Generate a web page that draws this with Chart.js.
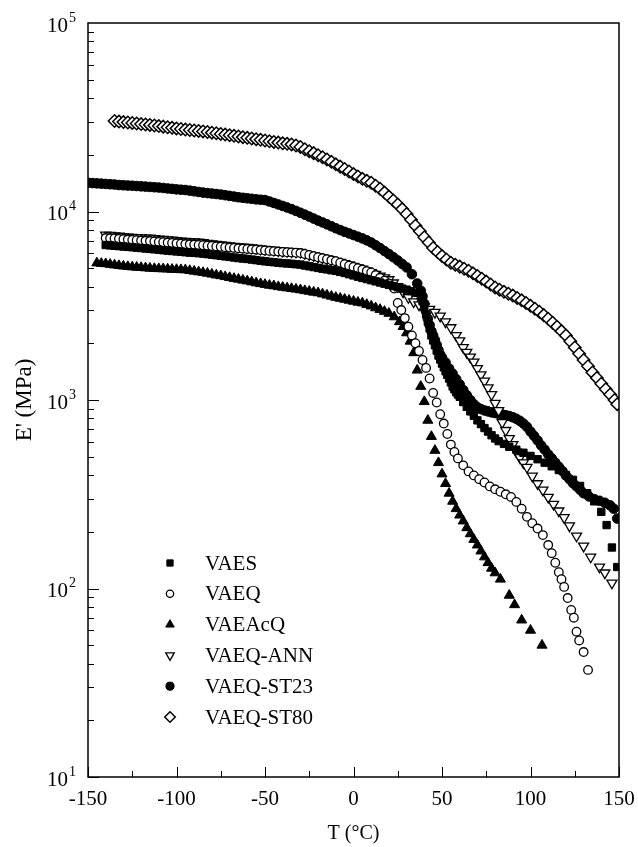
<!DOCTYPE html>
<html>
<head>
<meta charset="utf-8">
<script src="https://cdn.jsdelivr.net/npm/chart.js@4.4.1/dist/chart.umd.min.js"></script>
<style>
    html, body { margin: 0; padding: 0; background: #fff; }
    #wrap { width: 638px; height: 847px; }
</style>
</head>
<body>
<div id="wrap"><canvas id="modulusChart" width="638" height="847"></canvas></div>
<script>
// --- DATOS ---
const seriesNames = ['VAES', 'VAEQ', 'VAEAcQ', 'VAEQ-ANN', 'VAEQ-ST23', 'VAEQ-ST80'];

const vaesT = [-140,-137.5,-135,-132.5,-130,-127.5,-125,-122.5,-120,-117.5,
    -115,-112.5,-110,-107.5,-105,-102.5,-100,-97.5,-95,-92.5,
    -90,-87.5,-85,-82.5,-80,-77.5,-75,-72.5,-70,-67.5,
    -65,-62.5,-60,-57.5,-55,-52.5,-50,-47.5,-45,-42.5,
    -40,-37.5,-35,-32.5,-30,-27.5,-25,-22.5,-20,-17.5,
    -15,-12.5,-10,-7.5,-5,-2.5,0,2.5,5,7.5,
    10,12.5,15,17.5,20,22.5,25,27.5,30,32.5,
    35,
    38,39,40,41,42,43,44,45,46,47,48,49,50,51,52,53,54,55,56,57,58,59,60,
    62,64,66,68,70,72,74,76,78,80,82,
    85,88,92,96,100,104,108,112,116,120,124,128,132,136,140,
    143,146,149];
const vaesE = [6640,6610,6580,6550,6520,6490,6460,6430,6400,6360,
    6330,6300,6270,6230,6200,6170,6140,6110,6080,6050,
    6030,6010,5980,5940,5900,5860,5820,5780,5740,5700,
    5660,5630,5600,5560,5520,5480,5440,5410,5380,5350,
    5320,5300,5280,5250,5230,5170,5120,5070,5020,4970,
    4930,4880,4840,4780,4720,4650,4580,4510,4440,4380,
    4320,4260,4200,4140,4080,4020,3960,3900,3850,3780,
    3700,
    3560,3350,3100,2850,2600,2400,2200,2070,1950,1830,1720,1640,1560,1490,1420,1360,1300,1240,1180,1140,1100,1070,1040,
    975,920,870,825,780,745,710,680,650,625,605,
    585,565,545,525,505,485,465,445,425,400,377,350,320,290,255,
    217,165,130];

const vaeqT = [-140,-137.5,-135,-132.5,-130,-127.5,-125,-122.5,-120,-117.5,
    -115,-112.5,-110,-107.5,-105,-102.5,-100,-97.5,-95,-92.5,
    -90,-87.5,-85,-82.5,-80,-77.5,-75,-72.5,-70,-67.5,
    -65,-62.5,-60,-57.5,-55,-52.5,-50,-47.5,-45,-42.5,
    -40,-37.5,-35,-32.5,-30,-27.5,-25,-22.5,-20,-17.5,
    -15,-12.5,-10,-7.5,-5,-2.5,0,2.5,5,7.5,
    10,12.5,15,17.5,20,
    23,25,27,29,31,33,35,37,39,41,43,45,47,49,51,53,55,57,59,
    62,65,68,71,74,77,80,83,86,89,92,95,98,101,104,107,110,
    112,114,116,117.5,119,121,123,124.5,126,127.5,130,132.5];
const vaeqE = [7230,7210,7190,7160,7130,7100,7070,7040,7010,6990,
    6970,6930,6900,6870,6840,6810,6780,6750,6720,6700,
    6680,6650,6620,6590,6560,6530,6500,6470,6440,6410,
    6380,6350,6330,6300,6270,6240,6210,6180,6160,6130,
    6100,6080,6060,6040,6020,5950,5880,5800,5720,5650,
    5580,5510,5450,5350,5250,5160,5080,5000,4920,4830,
    4750,4600,4450,4300,4150,
    3900,3270,3000,2720,2450,2200,2000,1820,1630,1480,1300,1090,970,840,750,660,580,530,490,
    450,418,398,380,365,348,336,326,316,306,288,265,240,222,208,192,170,
    154,137,122,112,102,89,77,70,59,53,46,37];

const vaeacqT = [-145,-142.5,-140,-137.5,-135,-132.5,-130,-127.5,-125,-122.5,
    -120,-117.5,-115,-112.5,-110,-107.5,-105,-102.5,-100,-97.5,
    -95,-92.5,-90,-87.5,-85,-82.5,-80,-77.5,-75,-72.5,
    -70,-67.5,-65,-62.5,-60,-57.5,-55,-52.5,-50,-47.5,
    -45,-42.5,-40,-37.5,-35,-32.5,-30,-27.5,-25,-22.5,
    -20,-17.5,-15,-12.5,-10,-7.5,-5,-2.5,0,2.5,
    5,7.5,10,12.5,15,17.5,20,
    23,26,28,30,32,34,36,38,40,42,44,46,48,50,52,54,56,58,60,62,
    64,66,68,70,72,74,76,78,80,83,88,91,95,100,106.5];
const vaeacqE = [5330,5300,5280,5240,5200,5160,5130,5100,5080,5060,
    5040,5020,5000,4980,4970,4960,4950,4930,4920,4910,
    4900,4860,4820,4780,4740,4700,4650,4600,4560,4510,
    4460,4410,4370,4320,4280,4230,4180,4140,4100,4060,
    4030,3990,3960,3930,3900,3870,3840,3800,3770,3730,
    3700,3650,3600,3550,3500,3460,3420,3380,3340,3300,
    3270,3210,3150,3080,3020,2950,2880,
    2760,2600,2450,2270,2050,1780,1440,1180,980,780,640,540,465,405,360,320,290,265,245,228,
    210,195,182,170,158,147,137,128,121,112,92,82,68,60,50];

const annT = [-140,-137.5,-135,-132.5,-130,-127.5,-125,-122.5,-120,-117.5,
    -115,-112.5,-110,-107.5,-105,-102.5,-100,-97.5,-95,-92.5,
    -90,-87.5,-85,-82.5,-80,-77.5,-75,-72.5,-70,-67.5,
    -65,-62.5,-60,-57.5,-55,-52.5,-50,-47.5,-45,-42.5,
    -40,-37.5,-35,-32.5,-30,-27.5,-25,-22.5,-20,-17.5,
    -15,-12.5,-10,-7.5,-5,-2.5,0,2.5,5,7.5,
    10,12.5,15,17.5,20,22.5,25,
    28,31,34,37,40,43,46,49,52,55,58,
    60,62,64,66,68,70,72,74,76,78,80,82,84,86,88,90,92,94,96,98,
    101,104,107,110,113,116,119,122,
    126,130,134,139,142,146];
const annE = [7500,7470,7440,7400,7370,7330,7300,7280,7260,7240,
    7230,7190,7150,7110,7080,7050,7020,6980,6950,6920,
    6900,6880,6840,6790,6750,6700,6650,6610,6580,6540,
    6500,6480,6450,6420,6380,6340,6300,6270,6230,6200,
    6170,6150,6120,6100,6080,5990,5900,5830,5750,5680,
    5600,5530,5450,5380,5300,5210,5120,5030,4950,4850,
    4750,4650,4550,4450,4350,4180,4000,
    3750,3500,3320,3200,3120,3030,2920,2790,2600,2420,2200,
    2060,1900,1790,1690,1590,1470,1360,1260,1160,1070,960,880,760,690,625,580,530,495,465,440,
    395,360,333,305,280,258,238,215,
    190,168,147,130,121,107];

const st23T = [-150,-147.5,-145,-142.5,-140,-137.5,-135,-132.5,-130,-127.5,
    -125,-122.5,-120,-117.5,-115,-112.5,-110,-107.5,-105,-102.5,
    -100,-97.5,-95,-92.5,-90,-87.5,-85,-82.5,-80,-77.5,
    -75,-72.5,-70,-67.5,-65,-62.5,-60,-57.5,-55,-52.5,
    -50,-47.5,-45,-42.5,-40,-37.5,-35,-32.5,-30,-27.5,
    -25,-22.5,-20,-17.5,-15,-12.5,-10,-7.5,-5,-2.5,
    0,2.5,5,7.5,10,12.5,15,17.5,20,22.5,
    25,27.5,30,
    33,36,38,39,
    40,41,42,43,44,45,46,47,48,49,50,
    52,54,56,58,60,62,64,66,68,70,72,74,76,78,80,82,84,86,88,90,
    92,94,96,98,100,102,104,106,108,110,112,114,116,118,120,122,124,126,128,130,
    133,136,139,142,145,147,149];
const st23E = [14200,14150,14100,14050,14000,13950,13900,13820,13780,13730,
    13700,13650,13600,13550,13500,13450,13400,13330,13250,13180,
    13100,13050,13000,12900,12800,12700,12600,12520,12450,12380,
    12300,12200,12100,12000,11900,11820,11750,11680,11600,11550,
    11500,11300,11100,10900,10700,10500,10300,10070,9850,9620,
    9400,9170,8950,8750,8550,8350,8150,7970,7800,7650,
    7500,7350,7200,7030,6850,6620,6400,6170,5950,5720,
    5500,5270,5050,
    4650,4150,3800,3550,
    3250,2950,2700,2500,2320,2200,2080,1960,1840,1740,1680,
    1580,1470,1380,1290,1210,1130,1060,1000,950,915,895,880,870,860,853,845,838,830,822,810,
    795,775,750,720,680,645,610,575,545,515,490,465,442,420,398,380,362,348,334,320,
    308,298,292,285,276,265,235];

const st80T = [-135,-132.5,-130,-127.5,-125,-122.5,-120,-117.5,-115,-112.5,
    -110,-107.5,-105,-102.5,-100,-97.5,-95,-92.5,-90,-87.5,
    -85,-82.5,-80,-77.5,-75,-72.5,-70,-67.5,-65,-62.5,
    -60,-57.5,-55,-52.5,-50,-47.5,-45,-42.5,-40,-37.5,
    -35,-32.5,-30,-27.5,-25,-22.5,-20,-17.5,-15,-12.5,
    -10,-7.5,-5,-2.5,0,2.5,5,7.5,10,12.5,
    15,17.5,20,22.5,25,27.5,30,32.5,35,37.5,
    40,42.5,45,47.5,50,52.5,55,57.5,60,62.5,
    65,67.5,70,72.5,75,77.5,80,82.5,85,87.5,
    90,92.5,95,97.5,100,102.5,105,107.5,110,112.5,
    115,117.5,120,122.5,125,127.5,130,132.5,135,137.5,
    140,142.5,145,147.5,149];
const st80E = [30200,30000,29800,29650,29500,29300,29100,28950,28800,28600,
    28400,28200,28000,27800,27600,27400,27200,27050,26900,26750,
    26600,26400,26200,26000,25800,25600,25400,25200,25000,24800,
    24600,24400,24200,24000,23800,23600,23400,23200,23000,22850,
    22700,22400,22000,21400,20900,20400,19900,19400,18900,18350,
    17800,17300,16800,16300,15800,15350,14900,14550,14200,13700,
    13200,12600,12000,11450,10900,10300,9700,9050,8400,7850,
    7300,6850,6400,6100,5800,5570,5350,5220,5100,4970,
    4850,4700,4550,4400,4250,4100,3950,3850,3750,3660,
    3580,3480,3380,3270,3160,3050,2940,2820,2700,2570,
    2450,2320,2200,2050,1900,1760,1630,1510,1400,1310,
    1220,1140,1070,1000,950];

// Ejes
const xMin = -150, xMax = 150, xStep = 50, xMinorStep = 25;
const yMin = 10, yMax = 100000;
const yDecades = [10, 100, 1000, 10000, 100000];
const yExponents = ['1', '2', '3', '4', '5'];

// --- ESTILOS ---
const SERIF = '"Liberation Serif", "Times New Roman", serif';
const markerStyles = [
    { pointStyle: 'rect',     rotation: 0,   radius: 5.2, fill: '#000', border: 1 },
    { pointStyle: 'circle',   rotation: 0,   radius: 4.3, fill: '#fff', border: 1.3 },
    { pointStyle: 'triangle', rotation: 0,   radius: 5.8, fill: '#000', border: 1 },
    { pointStyle: 'triangle', rotation: 180, radius: 5.8, fill: '#fff', border: 1.3 },
    { pointStyle: 'circle',   rotation: 0,   radius: 4.8, fill: '#000', border: 1 },
    { pointStyle: 'rectRot',  rotation: 0,   radius: 6.2, fill: '#fff', border: 1.5 },
];

function toPoints(ts, es) {
    return ts.map((t, i) => ({ x: t, y: es[i] }));
}

const seriesData = [
    toPoints(vaesT, vaesE),
    toPoints(vaeqT, vaeqE),
    toPoints(vaeacqT, vaeacqE),
    toPoints(annT, annE),
    toPoints(st23T, st23E),
    toPoints(st80T, st80E),
];

const datasets = seriesNames.map((name, i) => {
    const s = markerStyles[i];
    return {
        label: name,
        data: seriesData[i],
        showLine: false,
        clip: 0,
        pointStyle: s.pointStyle,
        pointRotation: s.rotation,
        pointRadius: s.radius,
        pointBackgroundColor: s.fill,
        pointBorderColor: '#000',
        pointBorderWidth: s.border,
    };
});

// Marco, marcas interiores y etiquetas 10^n
const framePlugin = {
    id: 'frameTicks',
    afterDraw(chart) {
        const { ctx, chartArea: a } = chart;
        const xs = chart.scales.x, ys = chart.scales.y;
        ctx.save();
        ctx.strokeStyle = '#000';
        ctx.lineWidth = 1.5;
        ctx.strokeRect(a.left, a.top, a.right - a.left, a.bottom - a.top);

        ctx.lineWidth = 1;
        ctx.beginPath();
        for (let v = xMin; v <= xMax; v += xMinorStep) {
            const px = Math.round(xs.getPixelForValue(v)) + 0.5;
            const len = (v % xStep === 0) ? 10 : 6;
            ctx.moveTo(px, a.bottom);
            ctx.lineTo(px, a.bottom - len);
        }
        yDecades.forEach((d, k) => {
            if (k === yDecades.length - 1) return;
            for (let m = 1; m <= 9; m++) {
                const py = Math.round(ys.getPixelForValue(d * m)) + 0.5;
                const len = (m === 1) ? 11 : 6;
                ctx.moveTo(a.left, py);
                ctx.lineTo(a.left + len, py);
            }
        });
        ctx.stroke();

        ctx.fillStyle = '#000';
        ctx.textBaseline = 'middle';
        yDecades.forEach((d, k) => {
            const py = ys.getPixelForValue(d);
            ctx.font = '21px ' + SERIF;
            ctx.textAlign = 'right';
            ctx.fillText('10', a.left - 20, py + 3);
            ctx.font = '14px ' + SERIF;
            ctx.textAlign = 'left';
            ctx.fillText(yExponents[k], a.left - 19, py - 5);
        });
        ctx.restore();
    }
};

// Leyenda dentro del area del grafico
const legendPlugin = {
    id: 'insideLegend',
    afterDraw(chart) {
        const { ctx, chartArea: a } = chart;
        ctx.save();
        chart.data.datasets.forEach((ds, i) => {
            const y = a.top + 540 + i * 30.8;
            ctx.fillStyle = ds.pointBackgroundColor;
            ctx.strokeStyle = ds.pointBorderColor;
            ctx.lineWidth = ds.pointBorderWidth;
            Chart.helpers.drawPoint(ctx, {
                pointStyle: ds.pointStyle, rotation: ds.pointRotation,
                radius: ds.pointRadius * 0.85, borderWidth: ds.pointBorderWidth
            }, a.left + 82, y);
            ctx.fillStyle = '#000';
            ctx.font = '21px ' + SERIF;
            ctx.textAlign = 'left';
            ctx.textBaseline = 'middle';
            ctx.fillText(ds.label, a.left + 117, y + 1);
        });
        ctx.restore();
    }
};

const ctx = document.getElementById('modulusChart').getContext('2d');
new Chart(ctx, {
    type: 'scatter',
    data: { datasets },
    options: {
        responsive: false,
        animation: false,
        devicePixelRatio: 1,
        layout: { padding: { top: 23, right: 19, bottom: 0, left: 0 } },
        plugins: { legend: { display: false }, tooltip: { enabled: false } },
        scales: {
            x: {
                type: 'linear', position: 'bottom', min: xMin, max: xMax,
                ticks: { stepSize: xStep, padding: 10, color: '#000', font: { family: SERIF, size: 21 } },
                grid: { display: false, drawTicks: false },
                border: { display: false },
                title: { display: true, text: 'T (°C)', color: '#000', font: { family: SERIF, size: 20 }, padding: { top: 0, bottom: 1 } },
                afterFit: (s) => { s.height = 70; s.paddingLeft = 0; s.paddingRight = 0; }
            },
            y: {
                type: 'logarithmic', min: yMin, max: yMax,
                ticks: { display: false },
                grid: { display: false, drawTicks: false },
                border: { display: false },
                title: { display: true, text: "E' (MPa)", color: '#000', font: { family: SERIF, size: 23 }, padding: { top: 11, bottom: 0 } },
                afterFit: (s) => { s.width = 88; s.paddingTop = 0; s.paddingBottom = 0; }
            }
        }
    },
    plugins: [framePlugin, legendPlugin]
});
</script>
</body>
</html>
